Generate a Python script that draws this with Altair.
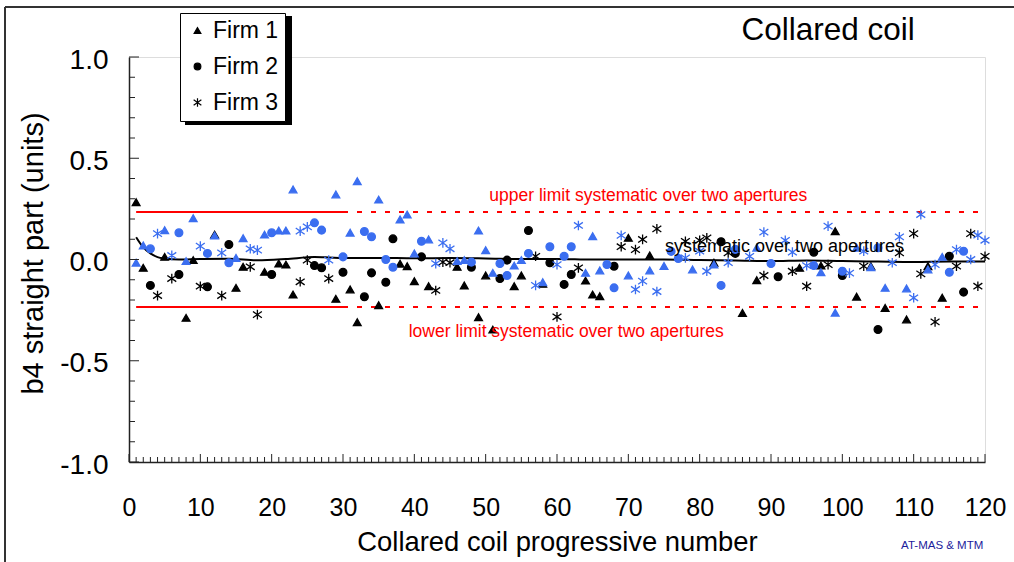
import altair as alt
import pandas as pd

# ---------------- data ----------------
coils = list(range(1, 121))
firm = [1, 1, 2, 3, 1, 3, 2, 1, 1, 3,
        2, 1, 3, 2, 1, 1, 3, 3, 1, 2,
        1, 1, 1, 3, 3, 2, 2, 3, 1, 2,
        1, 1, 2, 2, 1, 2, 2, 1, 1, 1,
        2, 1, 3, 3, 3, 1, 1, 2, 1, 1,
        1, 2, 2, 1, 1, 2, 3, 1, 2, 3,
        2, 2, 3, 1, 1, 1, 2, 2, 3, 1,
        3, 3, 1, 3, 1, 2, 2, 3, 1, 3,
        3, 1, 2, 3, 2, 1, 3, 1, 3, 2,
        2, 3, 3, 1, 3, 2, 1, 3, 1, 2,
        3, 1, 3, 1, 2, 1, 3, 3, 1, 3,
        3, 1, 3, 1, 2, 3, 2, 3, 3, 3]
# aperture 1 (black markers)
ap1 = [0.283, -0.041, -0.128, -0.178, 0.013, -0.094, -0.074, -0.288, -0.003, -0.132,
       -0.135, 0.123, -0.178, 0.074, -0.140, -0.036, -0.036, -0.272, -0.061, -0.074,
       -0.020, -0.025, -0.173, -0.110, -0.003, -0.030, -0.041, -0.094, -0.194, -0.063,
       -0.148, -0.310, -0.184, -0.066, -0.226, -0.112, 0.102, -0.021, -0.033, -0.107,
       0.013, -0.132, -0.153, -0.013, -0.016, -0.036, -0.128, -0.038, -0.285, -0.079,
       -0.346, -0.094, -0.003, -0.132, -0.079, 0.143, 0.016, -0.120, -0.016, -0.283,
       -0.123, -0.074, -0.041, -0.104, -0.173, -0.181, None, -0.033, 0.063, 0.107,
       0.049, 0.099, 0.020, 0.151, None, None, None, 0.090, None, 0.095,
       0.107, -0.016, 0.088, 0.033, 0.030, -0.264, None, -0.102, -0.079, None,
       -0.085, None, -0.058, -0.041, -0.132, 0.036, -0.030, -0.025, 0.140, -0.079,
       None, -0.184, -0.033, -0.033, -0.346, -0.239, None, 0.033, -0.296, 0.128,
       -0.071, -0.033, -0.308, -0.189, 0.016, -0.033, -0.161, 0.128, -0.132, 0.016]
# aperture 2 (blue markers)
ap2 = [-0.016, 0.069, 0.053, 0.128, 0.145, 0.020, 0.132, -0.008, 0.204, 0.066,
       0.030, 0.118, 0.033, -0.016, 0.008, 0.105, 0.053, 0.046, 0.123, 0.132,
       0.143, 0.143, 0.346, 0.140, 0.161, 0.181, 0.145, -0.003, 0.321, 0.013,
       0.132, 0.387, 0.138, 0.112, 0.296, 0.000, -0.038, 0.198, 0.222, 0.030,
       0.090, 0.099, -0.020, 0.082, 0.053, -0.008, -0.003, -0.013, 0.143, 0.046,
       -0.066, -0.020, -0.079, -0.030, -0.003, 0.030, -0.128, -0.112, 0.063, -0.025,
       0.016, 0.063, 0.168, -0.066, 0.115, -0.054, -0.025, -0.140, 0.119, -0.079,
       -0.148, -0.107, -0.054, -0.158, -0.032, 0.040, 0.005, 0.008, -0.049, 0.041,
       -0.058, -0.025, -0.128, -0.016, 0.050, None, 0.016, 0.058, 0.135, -0.020,
       None, 0.095, 0.036, None, -0.030, -0.030, -0.063, 0.165, -0.263, -0.058,
       -0.067, 0.058, 0.041, -0.038, 0.058, -0.140, -0.016, 0.112, -0.143, -0.189,
       0.222, -0.049, -0.025, 0.013, -0.063, 0.049, 0.041, 0.000, 0.120, 0.095]

# systematic (running) over the two apertures
sys_coil = [1, 2, 3, 4, 5, 7, 10, 14, 18, 22, 26, 28, 30, 35, 40, 45, 50, 55, 60,
            65, 70, 75, 80, 85, 90, 95, 100, 105, 110, 115, 120]
sys_val = [0.110, 0.060, 0.030, 0.012, 0.005, 0.000, 0.003, 0.004, -0.004, 0.002,
           0.012, 0.010, 0.007, 0.008, 0.006, 0.007, 0.005, 0.002, 0.003,
           0.000, 0.000, 0.000, -0.003, -0.005, -0.008, -0.005, -0.008, -0.010,
           -0.012, -0.010, -0.010]

limit = 0.235
solid_x = [1, 30]
dashed_x = [30, 120]

firm_names = ["Firm 1", "Firm 2", "Firm 3"]
ap_names = ["Aperture 1", "Aperture 2"]
x_ticks = list(range(0, 121, 10))
y_ticks = [-1.0, -0.5, 0.0, 0.5, 1.0]
x_minor = [v for v in range(0, 121) if v % 10 != 0]
y_minor = [-0.9, -0.8, -0.7, -0.6, -0.4, -0.3, -0.2, -0.1,
           0.1, 0.2, 0.3, 0.4, 0.6, 0.7, 0.8, 0.9]

ann_text = ["upper limit systematic over two apertures",
            "lower limit systematic over two apertures",
            "systematic over two apertures",
            "Collared coil",
            "AT-MAS & MTM"]
ann_x = [72.8, 61.3, 91.9, 98.0, 114.0]
ann_y = [0.316, -0.356, 0.064, 1.130, -1.417]
ann_color = ["#ff0000", "#ff0000", "#000000", "#000000", "#1c1c9c"]
ann_size = [17.5, 17.5, 18, 31.5, 11.5]

# ---------------- build tables ----------------
rows = []
for ap_name, vals in ((ap_names[0], ap1), (ap_names[1], ap2)):
    for c, f, v in zip(coils, firm, vals):
        if v is not None:
            rows.append({"coil": c, "firm": firm_names[f - 1], "ap": ap_name, "b4": v})
pts = pd.DataFrame(rows)

sysdf = pd.DataFrame({"coil": sys_coil, "b4": sys_val})
lim_solid = pd.DataFrame({
    "coil": solid_x + solid_x,
    "b4": [limit, limit, -limit, -limit],
    "seg": ["u", "u", "l", "l"]})
lim_dash = pd.DataFrame({
    "coil": dashed_x + dashed_x,
    "b4": [limit, limit, -limit, -limit],
    "seg": ["u", "u", "l", "l"]})
ann = pd.DataFrame({"coil": ann_x, "b4": ann_y, "text": ann_text,
                    "color": ann_color, "size": ann_size})
xt_min = pd.DataFrame({"coil": x_minor})
xt_maj = pd.DataFrame({"coil": x_ticks})
yt_min = pd.DataFrame({"b4": y_minor})
yt_maj = pd.DataFrame({"b4": y_ticks})
one = pd.DataFrame({"k": [0]})

W, H = 856, 405
FONT = "Liberation Sans"
BLUE = "#3b6ef0"
ASTER = "M-1.15,-0.8L1.15,0.8M-1.15,0.8L1.15,-0.8M0,-1.25L0,1.25"

xscale = alt.Scale(domain=[0, 120], nice=False, zero=False)
yscale = alt.Scale(domain=[-1, 1], nice=False, zero=False)

xaxis = alt.Axis(values=x_ticks, ticks=False, grid=False, domainColor="#222",
                 domainWidth=1.5, labelFontSize=25, labelPadding=33,
                 labelFlush=False, labelColor="black", labelFont=FONT,
                 title="Collared coil progressive number", titleFontSize=27.4,
                 titleFont=FONT, titleFontWeight="normal", titleColor="black",
                 titleX=W / 2, titleY=88, titleBaseline="alphabetic",
                 titleAlign="center", titleAnchor="middle")
yaxis = alt.Axis(values=y_ticks, ticks=False, grid=False,
                 labelExpr="datum.value < 0 ? '-' + format(-datum.value, '.1f') : format(datum.value, '.1f')",
                 domainColor="#222", domainWidth=1.5, labelFontSize=28,
                 labelPadding=21, labelOffset=3, labelFlush=False,
                 labelColor="black", labelFont=FONT,
                 title="b4 straight part (units)", titleFontSize=29,
                 titleFont=FONT, titleFontWeight="normal", titleColor="black",
                 titleAngle=-90, titleX=-87, titleY=196,
                 titleBaseline="alphabetic", titleAlign="center",
                 titleAnchor="middle")

base_x = alt.X("coil:Q", scale=xscale, axis=xaxis)
base_y = alt.Y("b4:Q", scale=yscale, axis=yaxis)

# frame of the figure
frame_left = alt.Chart(one).mark_rule(color="#333", strokeWidth=2).encode(
    x=alt.value(-124), y=alt.value(-50), y2=alt.value(H + 100))
frame_top = alt.Chart(one).mark_rule(color="#333", strokeWidth=2).encode(
    x=alt.value(-124), x2=alt.value(W + 40), y=alt.value(-50))
# legend shadow
shadow = alt.Chart(one).mark_rect(color="black").encode(
    x=alt.value(56), x2=alt.value(163), y=alt.value(-41), y2=alt.value(68))

solid = alt.Chart(lim_solid).mark_line(color="#ff0000", strokeWidth=2).encode(
    x=base_x, y=base_y, detail="seg:N")
dashed = alt.Chart(lim_dash).mark_line(color="#ff0000", strokeWidth=2,
                                       strokeDash=[5, 9]).encode(
    x="coil:Q", y="b4:Q", detail="seg:N")
sysline = alt.Chart(sysdf).mark_line(color="black", strokeWidth=2,
                                     interpolate="monotone").encode(
    x="coil:Q", y="b4:Q")

points = alt.Chart(pts).mark_point(size=60, strokeWidth=1.3, opacity=1).encode(
    x="coil:Q", y="b4:Q",
    shape=alt.Shape("firm:N",
                    scale=alt.Scale(domain=firm_names,
                                    range=["triangle-up", "circle", ASTER]),
                    legend=alt.Legend(title=None, orient="none", legendX=51,
                                      legendY=-44, fillColor="white",
                                      strokeColor="black", padding=6,
                                      labelFontSize=23, labelFont=FONT,
                                      labelColor="black", symbolSize=45,
                                      symbolFillColor="black",
                                      symbolStrokeColor="black",
                                      symbolStrokeWidth=1.2, symbolOffset=0,
                                      labelOffset=4, rowPadding=12)),
    fill=alt.Fill("ap:N", scale=alt.Scale(domain=ap_names, range=["black", BLUE]),
                  legend=None),
    stroke=alt.Stroke("ap:N", scale=alt.Scale(domain=ap_names, range=["black", BLUE]),
                      legend=None),
    order=alt.Order("ap:N"))

texts = alt.Chart(ann).mark_text(font=FONT, align="center",
                                 baseline="middle").encode(
    x="coil:Q", y="b4:Q", text="text:N",
    color=alt.Color("color:N", scale=None),
    size=alt.Size("size:Q", scale=None))

xtick_min = alt.Chart(xt_min).mark_rule(color="#222", strokeWidth=1).encode(
    x="coil:Q", y=alt.value(H), y2=alt.value(H - 5))
xtick_maj = alt.Chart(xt_maj).mark_rule(color="#222", strokeWidth=1).encode(
    x="coil:Q", y=alt.value(H), y2=alt.value(H - 8))
ytick_min = alt.Chart(yt_min).mark_rule(color="#222", strokeWidth=1).encode(
    y="b4:Q", x=alt.value(0), x2=alt.value(6))
ytick_maj = alt.Chart(yt_maj).mark_rule(color="#222", strokeWidth=1).encode(
    y="b4:Q", x=alt.value(0), x2=alt.value(10))

chart = alt.layer(
    frame_left, frame_top, shadow, solid, dashed, sysline, points, texts,
    xtick_min, xtick_maj, ytick_min, ytick_maj
).properties(
    width=W, height=H,
    autosize=alt.AutoSizeParams(type="none"),
    padding={"left": 129, "top": 57, "right": 29, "bottom": 100},
    background="white"
).configure_view(strokeWidth=0).configure(font=FONT)

chart.save("out.html", embed_options={"renderer": "svg", "actions": False})
